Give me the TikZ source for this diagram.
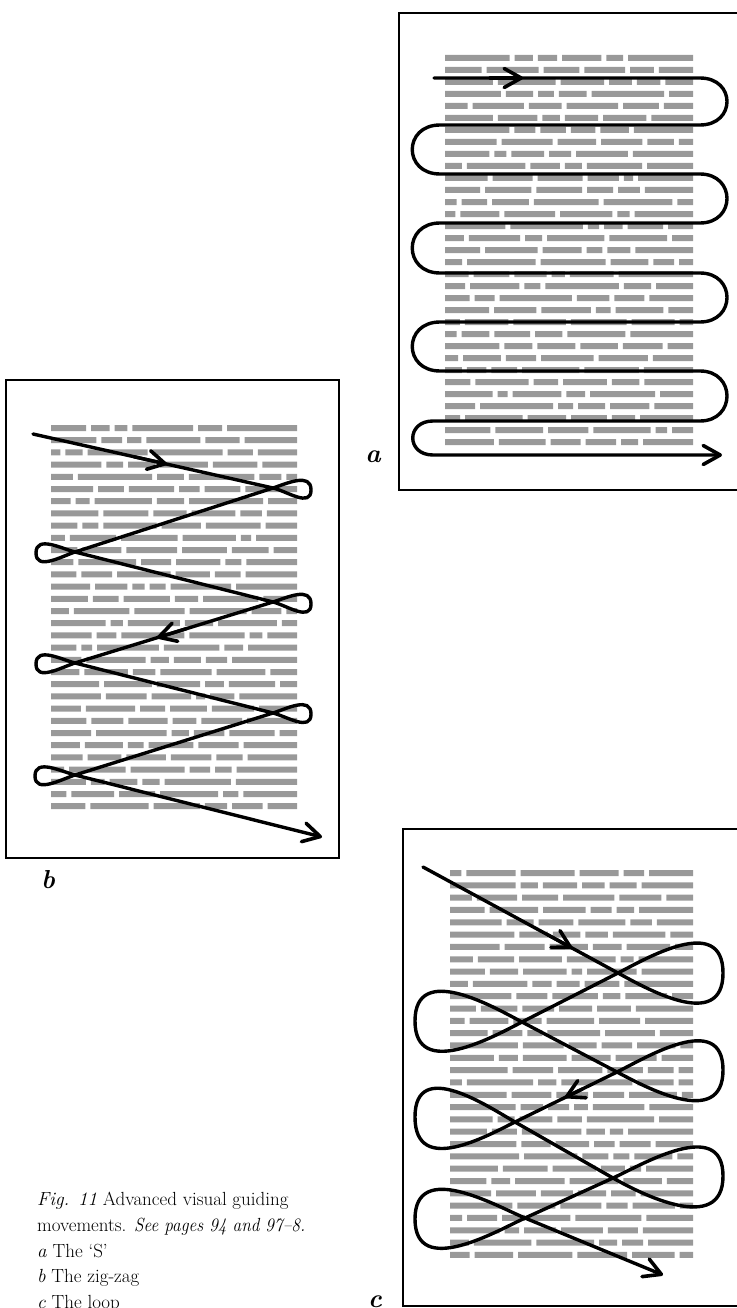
\documentclass[tikz,border=0pt]{standalone}
\usetikzlibrary{arrows.meta,calc}
\tikzset{
  pagebox/.style={draw=black, line width=2.2pt},
  guide/.style={draw=black, line width=3.4pt, line join=round, line cap=round},
  tipend/.style={-{Straight Barb[round,length=17pt,width=19pt,line width=3.6pt]}},
  wordbar/.style={fill=black!40},
  panellabel/.style={font=\fontsize{26}{30}\selectfont\bfseries\itshape, inner sep=0pt},
  captionline/.style={font=\fontsize{19}{26}\selectfont, anchor=base west, inner sep=0pt},
}
\newcommand\greylines[5]{%
  \foreach \gi in {1,...,#5}{%
    \pgfmathsetmacro\gy{#3+(\gi-1)*#4}%
    \pgfmathsetmacro\gwA{0.15+rnd}%
    \pgfmathsetmacro\gwB{0.15+rnd}%
    \pgfmathsetmacro\gwC{0.15+rnd}%
    \pgfmathsetmacro\gwD{0.15+rnd}%
    \pgfmathsetmacro\gwE{0.15+rnd}%
    \pgfmathsetmacro\gwF{0.15+rnd}%
    \pgfmathsetmacro\gs{(#2-#1-25)/(\gwA+\gwB+\gwC+\gwD+\gwE+\gwF)}%
    \pgfmathsetmacro\gxA{#1+\gwA*\gs}%
    \pgfmathsetmacro\gxB{\gxA+5+\gwB*\gs}%
    \pgfmathsetmacro\gxC{\gxB+5+\gwC*\gs}%
    \pgfmathsetmacro\gxD{\gxC+5+\gwD*\gs}%
    \pgfmathsetmacro\gxE{\gxD+5+\gwE*\gs}%
    \fill[wordbar] (#1,\gy-3) rectangle (\gxA,\gy+3)
      (\gxA+5,\gy-3) rectangle (\gxB,\gy+3)
      (\gxB+5,\gy-3) rectangle (\gxC,\gy+3)
      (\gxC+5,\gy-3) rectangle (\gxD,\gy+3)
      (\gxD+5,\gy-3) rectangle (\gxE,\gy+3)
      (\gxE+5,\gy-3) rectangle (#2,\gy+3);
  }%
}
\begin{document}
\begin{tikzpicture}[x=1pt,y=-1pt]
\useasboundingbox (0,0) rectangle (736,1308);
\pgfmathsetseed{7}

% ---------- page frames ----------
\draw[pagebox] (399,13) rectangle (770,490);
\draw[pagebox] (6,380) rectangle (339,858);
\draw[pagebox] (403,829) rectangle (770,1306);

% ---------- grey text ----------
\greylines{445}{693}{58}{12}{33}
\greylines{51}{297}{428}{12.2}{32}
\greylines{450}{693}{873}{12.32}{32}

% ---------- panel a : the S ----------
\coordinate (aS) at (434,78);
\coordinate (aE) at (722,455);
\draw[guide, tipend] (aS) -- (700,78)
  .. controls (736,78) and (736,125) .. (700,125) -- (440,125)
  .. controls (403,125) and (403,174) .. (440,174) -- (700,174)
  .. controls (736,174) and (736,223) .. (700,223) -- (440,223)
  .. controls (403,223) and (403,273) .. (440,273) -- (700,273)
  .. controls (736,273) and (736,322) .. (700,322) -- (440,322)
  .. controls (403,322) and (403,371) .. (440,371) -- (700,371)
  .. controls (736,371) and (736,421) .. (700,421) -- (433,421)
  .. controls (406,421) and (406,455) .. (433,455) -- (aE);
\coordinate (aM1) at (490,78);
\coordinate (aM2) at (523,78);
\draw[guide, tipend] (aM1) -- (aM2);

% ---------- panel b : the zig-zag ----------
\coordinate (bS) at (33,434);
\coordinate (bR1) at (273,488);
\coordinate (bL1) at (75,552);
\coordinate (bR2) at (273,602);
\coordinate (bL2) at (75,663);
\coordinate (bR3) at (273,713);
\coordinate (bL3) at (75,775);
\coordinate (bE) at (322,837);
\coordinate (bTR1) at (311,490);
\coordinate (bTL1) at (36,553);
\coordinate (bTR2) at (311,604);
\coordinate (bTL2) at (36,664);
\coordinate (bTR3) at (311,714);
\coordinate (bTL3) at (35,776);
\draw[guide, tipend] (bS) -- (bR1)
  .. controls ($(bR1)!-14pt!(bS)$) and ($(bTR1)+(0,18)$) .. (bTR1)
  .. controls ($(bTR1)+(0,-18)$) and ($(bR1)!-14pt!(bL1)$) .. (bR1) -- (bL1)
  .. controls ($(bL1)!-14pt!(bR1)$) and ($(bTL1)+(0,18)$) .. (bTL1)
  .. controls ($(bTL1)+(0,-18)$) and ($(bL1)!-14pt!(bR2)$) .. (bL1) -- (bR2)
  .. controls ($(bR2)!-14pt!(bL1)$) and ($(bTR2)+(0,18)$) .. (bTR2)
  .. controls ($(bTR2)+(0,-18)$) and ($(bR2)!-14pt!(bL2)$) .. (bR2) -- (bL2)
  .. controls ($(bL2)!-14pt!(bR2)$) and ($(bTL2)+(0,18)$) .. (bTL2)
  .. controls ($(bTL2)+(0,-18)$) and ($(bL2)!-14pt!(bR3)$) .. (bL2) -- (bR3)
  .. controls ($(bR3)!-14pt!(bL2)$) and ($(bTR3)+(0,18)$) .. (bTR3)
  .. controls ($(bTR3)+(0,-18)$) and ($(bR3)!-14pt!(bL3)$) .. (bR3) -- (bL3)
  .. controls ($(bL3)!-14pt!(bR3)$) and ($(bTL3)+(0,18)$) .. (bTL3)
  .. controls ($(bTL3)+(0,-18)$) and ($(bL3)!-14pt!(bE)$) .. (bL3) -- (bE);
\draw[guide, tipend] ($(bS)!0.42!(bR1)$) -- ($(bS)!0.558!(bR1)$);
\draw[guide, tipend] ($(bR2)!0.44!(bL2)$) -- ($(bR2)!0.586!(bL2)$);

% ---------- panel c : the loop ----------
\coordinate (cS) at (423,867);
\coordinate (cR1) at (618,973);
\coordinate (cL1) at (522,1022);
\coordinate (cR2) at (617,1072);
\coordinate (cL2) at (515,1122);
\coordinate (cR3) at (613,1178);
\coordinate (cL3) at (525,1218);
\coordinate (cE) at (663,1275);
\coordinate (cTR1) at (723,973);
\coordinate (cTL1) at (415,1021);
\coordinate (cTR2) at (723,1070);
\coordinate (cTL2) at (415,1117);
\coordinate (cTR3) at (723,1176);
\coordinate (cTL3) at (415,1219);
\draw[guide, tipend] (cS) -- (cR1)
  .. controls ($(cR1)!-30pt!(cS)$) and ($(cTR1)+(0,60)$) .. (cTR1)
  .. controls ($(cTR1)+(0,-60)$) and ($(cR1)!-30pt!(cL1)$) .. (cR1) -- (cL1)
  .. controls ($(cL1)!-30pt!(cR1)$) and ($(cTL1)+(0,60)$) .. (cTL1)
  .. controls ($(cTL1)+(0,-60)$) and ($(cL1)!-30pt!(cR2)$) .. (cL1) -- (cR2)
  .. controls ($(cR2)!-30pt!(cL1)$) and ($(cTR2)+(0,60)$) .. (cTR2)
  .. controls ($(cTR2)+(0,-60)$) and ($(cR2)!-30pt!(cL2)$) .. (cR2) -- (cL2)
  .. controls ($(cL2)!-30pt!(cR2)$) and ($(cTL2)+(0,60)$) .. (cTL2)
  .. controls ($(cTL2)+(0,-60)$) and ($(cL2)!-30pt!(cR3)$) .. (cL2) -- (cR3)
  .. controls ($(cR3)!-30pt!(cL2)$) and ($(cTR3)+(0,60)$) .. (cTR3)
  .. controls ($(cTR3)+(0,-60)$) and ($(cR3)!-30pt!(cL3)$) .. (cR3) -- (cL3)
  .. controls ($(cL3)!-30pt!(cR3)$) and ($(cTL3)+(0,60)$) .. (cTL3)
  .. controls ($(cTL3)+(0,-60)$) and ($(cL3)!-30pt!(cE)$) .. (cL3) -- (cE);
\draw[guide, tipend] ($(cS)!0.64!(cR1)$) -- ($(cS)!0.764!(cR1)$);
\draw[guide, tipend] ($(cR2)!0.34!(cL2)$) -- ($(cR2)!0.51!(cL2)$);

% ---------- labels ----------
\node[panellabel] (labA) at (373,457) {a};
\node[panellabel] (labB) at (48,880) {b};
\node[panellabel, anchor=base] (labC) at (375,1307) {c};

% ---------- caption ----------
\node[captionline] (cap1) at (37,1205) {\textit{Fig. 11} Advanced visual guiding};
\node[captionline] (cap2) at (37,1231) {movements. \scalebox{0.91}[1]{\textit{See pages 94 and 97\textendash 8.}}};
\node[captionline] (cap3) at (37,1257) {\textit{a} The \textquoteleft S\textquoteright};
\node[captionline] (cap4) at (37,1282) {\textit{b} The zig-zag};
\node[captionline] (cap5) at (37,1308) {\textit{c} The loop};
\end{tikzpicture}
\end{document}
